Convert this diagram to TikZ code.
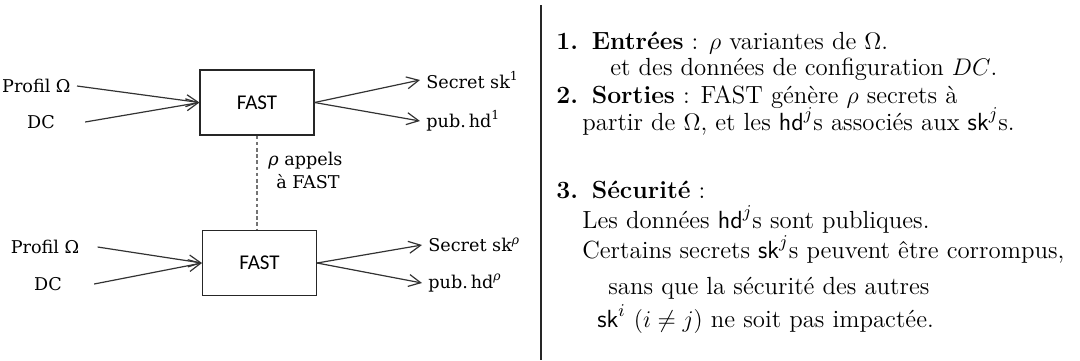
\documentclass[tikz,border=0pt]{standalone}
\usepackage{fontspec}
\newfontfamily\cambria{DejaVu Serif}
\newfontfamily\calibri{Carlito}
\usetikzlibrary{arrows.meta}
\tikzset{
  lab/.style={font=\cambria\fontsize{8.8}{11.5}\selectfont, inner xsep=3pt, inner ysep=0pt, text=black},
  fastbox/.style={draw=black!85, line width=0.55pt, minimum width=57pt, minimum height=32.5pt,
    font=\calibri\fontsize{10.5}{12}\selectfont, inner sep=0pt},
  arr/.style={draw=black!80, line width=0.6pt, -{Straight Barb[length=6pt,width=6pt]}},
  dashline/.style={draw=black!55, line width=0.6pt, dash pattern=on 1.8pt off 1.3pt},
  txt/.style={anchor=base west, inner sep=0pt, font=\fontsize{12.4}{14}\selectfont}
}
\newcommand{\itemgap}{\hspace{0.55em}}
\begin{document}
\begin{tikzpicture}[x=0.5pt,y=-0.5pt]
\useasboundingbox (0,0) rectangle (1080,360);
% top block
\node[fastbox] (b1) at (257,102.5) {\raisebox{-3.5pt}{FAST}};
\node[lab, anchor=east] (p1) at (77,86) {Profil Ω};
\node[lab] (d1) at (41,122) {DC};
\node[lab, anchor=west] (s1) at (420,80) {Secret sk\textsuperscript{1}};
\node[lab, anchor=west] (h1) at (420,121) {pub.\,hd\textsuperscript{1}};
\draw[arr] (p1.east) -- (b1.west);
\draw[arr] ([xshift=12pt]d1.east) -- (b1.west);
\draw[arr] (b1.east) -- (s1.west);
\draw[arr] (b1.east) -- (h1.west);
% bottom block
\node[fastbox] (b2) at (259.5,263) {\raisebox{-3.5pt}{FAST}};
\node[lab] (p2) at (45,247) {Profil Ω};
\node[lab] (d2) at (48,284) {DC};
\node[lab, anchor=west] (s2) at (422,245) {Secret sk\textsuperscript{\itshape ρ}};
\node[lab, anchor=west] (h2) at (422,283) {pub.\,hd\textsuperscript{\itshape ρ}};
\draw[arr] ([xshift=6pt]p2.east) -- (b2.west);
\draw[arr] ([xshift=13pt]d2.east) -- (b2.west);
\draw[arr] (b2.east) -- (s2.west);
\draw[arr] (b2.east) -- (h2.west);
% dashed link
\draw[dashline] (b1.south) -- (b1.south |- b2.north);
\node[lab, align=left, anchor=west] (rho) at (262,170) {{\itshape ρ} appels\\\hspace{4pt}à FAST};
% separator
\coordinate (st) at (541,5);
\coordinate (sb) at (541,360);
\draw[line width=0.7pt, black!85] (st) -- (sb);
% right text
\node[txt] (l1) at (556,49) {\textbf{1.\itemgap Entrées} : $\rho$ variantes de $\Omega$.};
\node[txt] (l2) at (610,75) {et des données de configuration $DC$.};
\node[txt] (l3) at (556,103) {\textbf{2.\itemgap Sorties} : FAST génère $\rho$ secrets à};
\node[txt] (l4) at (582,130) {partir de $\Omega$, et les $\mathsf{hd}^j$s associés aux $\mathsf{sk}^j$s.};
\node[txt] (l5) at (556,198) {\textbf{3.\itemgap Sécurité} :};
\node[txt] (l6) at (582,228) {Les données $\mathsf{hd}^j$s sont publiques.};
\node[txt] (l7) at (582,258) {Certains secrets $\mathsf{sk}^j$s peuvent être corrompus,};
\node[txt] (l8) at (608,294) {sans que la sécurité des autres};
\node[txt] (l9) at (597,327) {$\mathsf{sk}^i$ $(i\neq j)$ ne soit pas impactée.};
\end{tikzpicture}
\end{document}
